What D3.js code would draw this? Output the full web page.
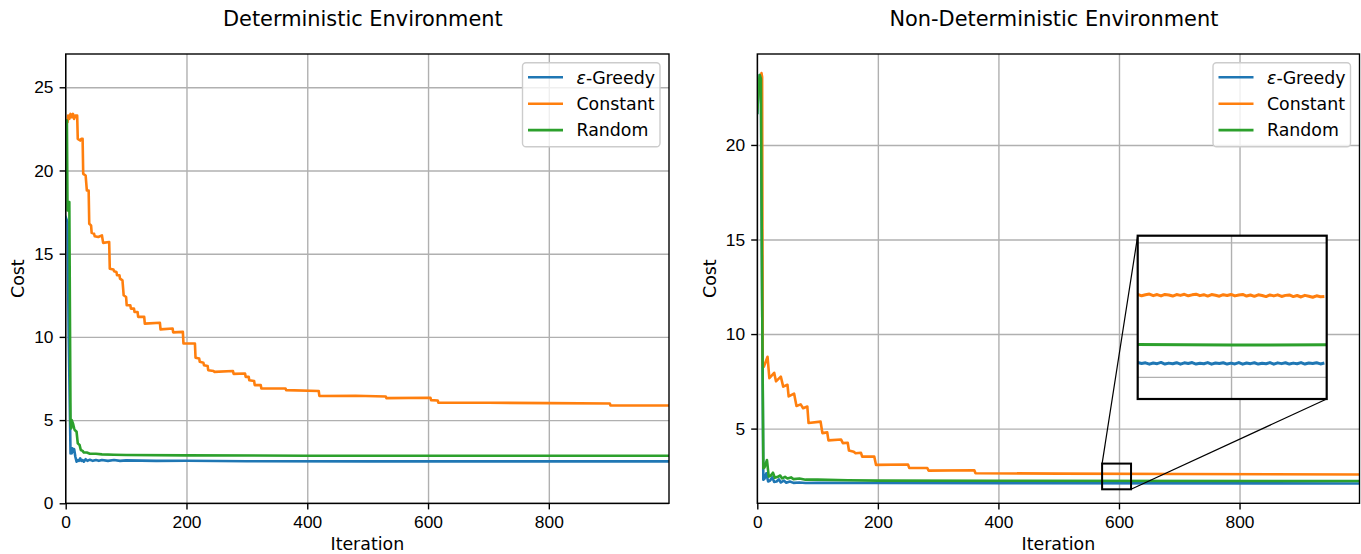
<!DOCTYPE html>
<meta charset="utf-8">
<style>
body { margin: 0; background: #fff; }
svg { display: block; font-family: "DejaVu Sans", sans-serif; }
.tick text { font-size: 17.36px; fill: #000; }
.grid line { stroke: #b0b0b0; stroke-width: 1.39; }
.grid .domain { display: none; }
</style>
<body>
<svg width="1361" height="554"></svg>
<script src="https://cdn.jsdelivr.net/npm/d3@7"></script>
<script>
// ---- data ([iteration, cost]) ----
var seriesNames = ["Greedy", "Constant", "Random"];
var colors = ["#1f77b4", "#ff7f0e", "#2ca02c"];

var detGreedy = [[0,17.2],[3,16.9],[5,10],[8,3.0],[9,3.3],[10,3.0],[11,3.3],[12,3.1],[14,3.25],[16,2.8],[18,2.5],[20,2.6],[22,2.55],[24,2.7],[26,2.55],[28,2.6],[30,2.5],[33,2.65],[36,2.55],[40,2.62],[45,2.55],[50,2.6],[55,2.55],[60,2.6],[70,2.55],[80,2.6],[90,2.55],[100,2.58],[150,2.55],[200,2.56],[300,2.53],[500,2.52],[999,2.52]];
var detConstant = [[0,23.0],[3,22.9],[4,23.3],[6,23.1],[8,23.4],[10,23.2],[12,23.4],[14,23.1],[16,23.3],[19,23.3],[20,21.9],[24,21.8],[26,21.9],[28,21.9],[29,19.8],[33,19.7],[35,18.8],[38,18.8],[39,16.8],[42,16.7],[43,16.25],[47,16.2],[48,16.05],[54,16.0],[60,16.1],[62,15.65],[72,15.7],[73,14.1],[79,14.05],[80,13.95],[84,13.9],[85,13.7],[89,13.7],[90,13.5],[94,13.4],[96,12.5],[100,12.4],[101,11.9],[107,11.9],[108,11.7],[113,11.7],[114,11.5],[119,11.5],[120,11.2],[130,11.2],[131,10.8],[156,10.85],[157,10.45],[177,10.5],[178,10.27],[194,10.3],[195,9.6],[214,9.6],[215,8.75],[221,8.7],[222,8.5],[228,8.45],[229,8.3],[235,8.25],[236,8.0],[245,7.95],[246,7.9],[277,7.95],[278,7.78],[297,7.8],[298,7.6],[303,7.6],[304,7.4],[312,7.35],[313,7.1],[323,7.1],[324,6.9],[364,6.9],[365,6.8],[419,6.75],[420,6.45],[480,6.46],[530,6.42],[531,6.32],[604,6.34],[605,6.2],[616,6.18],[617,6.05],[700,6.04],[800,6.02],[901,6.0],[902,5.88],[999,5.88]];
var detRandom = [[0,23.0],[2,23.0],[3,17.6],[4,18.1],[6,18.1],[8,4.9],[9,4.5],[10,5.0],[12,4.8],[14,4.5],[15,4.4],[18,4.3],[20,3.6],[23,3.5],[25,3.2],[28,3.15],[30,3.05],[35,3.05],[40,2.98],[50,2.98],[60,2.94],[80,2.92],[100,2.9],[200,2.88],[400,2.86],[999,2.86]];

var ndGreedy = [[0,21.7],[2,23.0],[4,23.7],[6,23.5],[8,12],[10,2.3],[12,2.35],[15,2.64],[18,2.2],[21,2.25],[25,2.42],[28,2.18],[32,2.2],[36,2.32],[39,2.15],[44,2.25],[48,2.14],[54,2.2],[60,2.13],[70,2.15],[80,2.12],[100,2.13],[200,2.12],[400,2.11],[999,2.1]];
var ndConstant = [[0,22.0],[2,23.0],[5,23.6],[7,23.8],[8,23.6],[9,8.3],[11,8.28],[17,8.8],[20,7.67],[28,7.95],[31,7.5],[39,7.75],[43,7.22],[50,7.32],[52,6.7],[61,6.85],[65,6.2],[72,6.28],[76,6.08],[83,6.17],[85,5.3],[105,5.37],[108,4.76],[116,4.8],[118,4.38],[139,4.42],[142,4.23],[150,4.25],[152,3.84],[160,3.78],[163,3.7],[172,3.72],[174,3.52],[194,3.52],[197,3.08],[250,3.1],[252,2.92],[282,2.92],[284,2.78],[360,2.8],[362,2.64],[500,2.62],[700,2.6],[999,2.57]];
var ndRandom = [[0,21.7],[2,23.0],[4,23.7],[6,23.5],[8,12],[10,2.9],[12,2.95],[16,3.34],[19,2.46],[22,2.5],[26,2.67],[29,2.4],[34,2.45],[38,2.52],[41,2.37],[46,2.45],[50,2.36],[56,2.42],[60,2.33],[70,2.36],[80,2.3],[100,2.3],[150,2.27],[200,2.25],[400,2.24],[999,2.23]];

// zoomed samples shown in the inset (iterations 575..624)
var insetIter = d3.range(575, 625);
var insetGreedy = [2.096,2.106,2.099,2.104,2.094,2.103,2.098,2.107,2.095,2.102,2.097,2.105,2.094,2.104,2.099,2.106,2.095,2.101,2.097,2.106,2.094,2.103,2.099,2.105,2.095,2.102,2.096,2.106,2.094,2.103,2.098,2.105,2.095,2.101,2.097,2.106,2.094,2.104,2.098,2.105,2.095,2.102,2.097,2.106,2.095,2.103,2.099,2.105,2.096,2.103];
var insetConstant = [2.606,2.614,2.603,2.611,2.616,2.604,2.612,2.602,2.613,2.609,2.601,2.612,2.606,2.614,2.603,2.610,2.615,2.604,2.611,2.601,2.612,2.607,2.600,2.611,2.605,2.613,2.602,2.609,2.613,2.601,2.609,2.599,2.610,2.605,2.597,2.609,2.602,2.610,2.598,2.606,2.609,2.597,2.605,2.594,2.606,2.600,2.592,2.603,2.596,2.598];
var insetRandom = [[575,2.240],[600,2.237],[625,2.238]];

var detYTicks = [0, 5, 10, 15, 20, 25];
var ndYTicks = [5, 10, 15, 20];
var xTicks = [0, 200, 400, 600, 800];

var svg = d3.select("svg");
var line = d3.line().x(function(d) { return d[0]; }).y(function(d) { return d[1]; });

function drawPanel(p) {
  var x = d3.scaleLinear().domain([0, 999]).range([p.left, p.right]);
  var y = d3.scaleLinear().domain(p.yDomain).range([p.bottom, p.top]);
  var w = p.right - p.left, h = p.bottom - p.top;
  var g = svg.append("g");

  g.append("clipPath").attr("id", p.id + "clip")
    .append("rect").attr("x", p.left).attr("y", p.top).attr("width", w).attr("height", h);

  // grid
  g.append("g").attr("class", "grid").attr("transform", "translate(0," + p.bottom + ")")
    .call(d3.axisBottom(x).tickValues(xTicks).tickSize(-h).tickFormat(""));
  g.append("g").attr("class", "grid").attr("transform", "translate(" + p.left + ",0)")
    .call(d3.axisLeft(y).tickValues(p.yTicks).tickSize(-w).tickFormat(""));

  // series
  var lines = g.append("g").attr("clip-path", "url(#" + p.id + "clip)");
  p.series.forEach(function(s, i) {
    lines.append("path")
      .attr("d", line(s.map(function(d) { return [x(d[0]), y(d[1])]; })))
      .attr("fill", "none").attr("stroke", colors[i]).attr("stroke-width", 2.6)
      .attr("stroke-linejoin", "round").attr("stroke-linecap", "square");
  });

  // axes
  var xa = g.append("g").attr("transform", "translate(0," + p.bottom + ")")
    .call(d3.axisBottom(x).tickValues(xTicks).tickSize(6.1).tickPadding(6.1));
  var ya = g.append("g").attr("transform", "translate(" + p.left + ",0)")
    .call(d3.axisLeft(y).tickValues(p.yTicks).tickSize(6.1).tickPadding(6.1));
  [xa, ya].forEach(function(a) {
    a.select(".domain").remove();
    a.selectAll(".tick line").attr("stroke", "#000").attr("stroke-width", 1.39);
    a.selectAll(".tick text").attr("font-family", null).attr("font-size", null);
  });
  xa.selectAll(".tick text").attr("dy", "0.71em");

  g.append("rect").attr("x", p.left).attr("y", p.top).attr("width", w).attr("height", h)
    .attr("fill", "none").attr("stroke", "#000").attr("stroke-width", 1.39);

  // labels
  g.append("text").attr("x", (p.left + p.right) / 2 - 4.5).attr("y", 26)
    .attr("text-anchor", "middle").attr("font-size", 20.9).text(p.title);
  g.append("text").attr("x", (p.left + p.right) / 2).attr("y", 550)
    .attr("text-anchor", "middle").attr("font-size", 17.36).text("Iteration");
  g.append("text").attr("transform", "translate(" + p.ylabelX + "," + ((p.top + p.bottom) / 2) + ") rotate(-90)")
    .attr("text-anchor", "middle").attr("font-size", 17.36).text("Cost");

  // legend
  var lx = p.right - 146.5, ly = p.top + 8.7;
  g.append("rect").attr("x", lx).attr("y", ly).attr("width", 137.5).attr("height", 84)
    .attr("rx", 3.5).attr("fill", "#fff").attr("fill-opacity", 0.8)
    .attr("stroke", "#cccccc").attr("stroke-width", 1.39);
  seriesNames.forEach(function(n, i) {
    var yy = ly + 14.6 + i * 26.4;
    g.append("line").attr("x1", lx + 5.5).attr("x2", lx + 40.5).attr("y1", yy).attr("y2", yy)
      .attr("stroke", colors[i]).attr("stroke-width", 2.6);
    var t = g.append("text").attr("x", lx + 54).attr("y", yy).attr("dy", "0.36em")
      .attr("font-size", 17.36);
    if (i === 0) {
      t.append("tspan").attr("font-style", "italic").text("ε");
      t.append("tspan").text("-Greedy");
    } else {
      t.text(n);
    }
  });

  return {x: x, y: y, g: g};
}

drawPanel({
  id: "det", title: "Deterministic Environment",
  left: 65.7, right: 669, top: 54, bottom: 503.3, ylabelX: 24,
  yDomain: [0, 27], yTicks: detYTicks,
  series: [detGreedy, detConstant, detRandom]
});

var nd = drawPanel({
  id: "nd", title: "Non-Deterministic Environment",
  left: 757.3, right: 1359.5, top: 54, bottom: 503.3, ylabelX: 716,
  yDomain: [1.05, 24.81], yTicks: ndYTicks,
  series: [ndGreedy, ndConstant, ndRandom]
});

// ---- inset zoom ----
var zoomX = [572, 620], zoomY = [1.79, 3.15];
var ins = {left: 1137.7, top: 235.7, right: 1326.7, bottom: 399};
var ix = d3.scaleLinear().domain([576, 624.6]).range([ins.left, ins.right]);
var iy = d3.scaleLinear().domain([1.835, 3.05]).range([ins.bottom, ins.top]);

var rx0 = nd.x(zoomX[0]), rx1 = nd.x(zoomX[1]), ry0 = nd.y(zoomY[1]), ry1 = nd.y(zoomY[0]);
var ig = svg.append("g");
ig.append("rect").attr("x", rx0).attr("y", ry0).attr("width", rx1 - rx0).attr("height", ry1 - ry0)
  .attr("fill", "none").attr("stroke", "#000").attr("stroke-width", 2);
ig.append("line").attr("x1", rx0).attr("y1", ry0).attr("x2", ins.left).attr("y2", ins.top)
  .attr("stroke", "#000").attr("stroke-width", 1.2);
ig.append("line").attr("x1", rx1).attr("y1", ry1).attr("x2", ins.right).attr("y2", ins.bottom)
  .attr("stroke", "#000").attr("stroke-width", 1.2);

ig.append("rect").attr("x", ins.left).attr("y", ins.top)
  .attr("width", ins.right - ins.left).attr("height", ins.bottom - ins.top).attr("fill", "#fff");
ig.append("clipPath").attr("id", "insclip").append("rect")
  .attr("x", ins.left).attr("y", ins.top)
  .attr("width", ins.right - ins.left).attr("height", ins.bottom - ins.top);

ig.append("g").attr("class", "grid").attr("transform", "translate(0," + ins.bottom + ")")
  .call(d3.axisBottom(ix).tickValues([600]).tickSize(-(ins.bottom - ins.top)).tickFormat(""));
ig.append("g").attr("class", "grid").attr("transform", "translate(" + ins.left + ",0)")
  .call(d3.axisLeft(iy).tickValues([2, 3]).tickSize(-(ins.right - ins.left)).tickFormat(""));

var insetSeries = [
  insetIter.map(function(it, i) { return [it, insetGreedy[i]]; }),
  insetIter.map(function(it, i) { return [it, insetConstant[i]]; }),
  insetRandom
];
var il = ig.append("g").attr("clip-path", "url(#insclip)");
insetSeries.forEach(function(s, i) {
  il.append("path")
    .attr("d", line(s.map(function(d) { return [ix(d[0]), iy(d[1])]; })))
    .attr("fill", "none").attr("stroke", colors[i]).attr("stroke-width", 3)
    .attr("stroke-linejoin", "round");
});
ig.append("rect").attr("x", ins.left).attr("y", ins.top)
  .attr("width", ins.right - ins.left).attr("height", ins.bottom - ins.top)
  .attr("fill", "none").attr("stroke", "#000").attr("stroke-width", 2.2);
</script>
</body>
